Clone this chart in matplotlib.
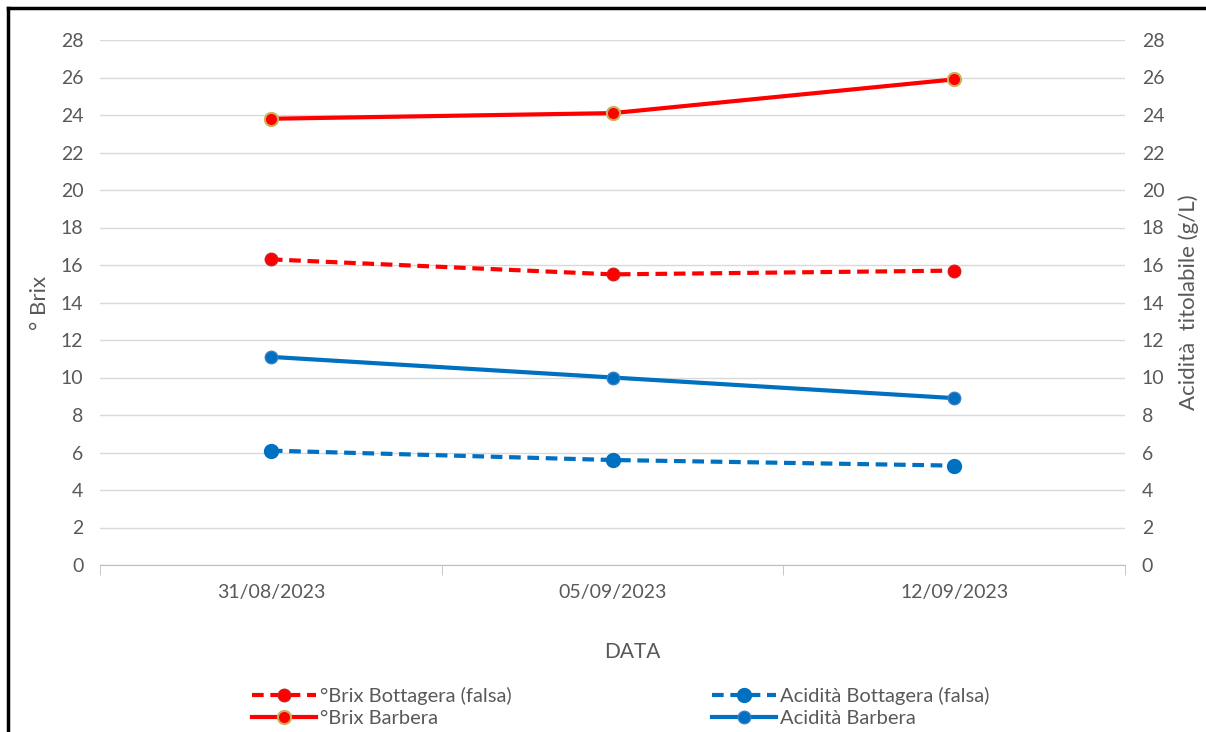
import matplotlib.pyplot as plt
from matplotlib.lines import Line2D

plt.rcParams['font.family'] = ['Lato', 'DejaVu Sans']

dates = ['31/08/2023', '05/09/2023', '12/09/2023']
brix_bottagera = [16.3, 15.5, 15.7]
brix_barbera = [23.8, 24.1, 25.9]
acid_bottagera = [6.1, 5.6, 5.3]
acid_barbera = [11.1, 10.0, 8.9]
yticks = list(range(0, 29, 2))

red = '#FF0000'
blue = '#0070C0'
grey_txt = '#595959'

fig = plt.figure(figsize=(12.06, 7.32), dpi=100)
ax = fig.add_axes([100 / 1206, 167 / 732, 1025 / 1206, 525 / 732])
ax2 = ax.twinx()

x = list(range(len(dates)))
dash = (2.8, 1.6)

l1, = ax.plot(x, brix_bottagera, color=red, lw=3, dashes=dash, marker='o', ms=9,
              mfc=red, mec='#D02020', zorder=3)
l2, = ax.plot(x, brix_barbera, color=red, lw=3, marker='o', ms=9.5,
              mfc=red, mec='#C8B45A', mew=1.5, zorder=3)
l3, = ax2.plot(x, acid_bottagera, color=blue, lw=3, dashes=dash, marker='o', ms=10,
               mfc=blue, mec=blue, zorder=3)
l4, = ax2.plot(x, acid_barbera, color=blue, lw=3, marker='o', ms=9,
               mfc=blue, mec='#3A7FC8', zorder=3)

for a in (ax, ax2):
    a.set_ylim(0, 28)
    a.set_yticks(yticks)
    a.tick_params(axis='y', length=0, labelsize=14, labelcolor=grey_txt, pad=12)
    for s in a.spines.values():
        s.set_visible(False)
ax.set_xlim(-0.5, 2.5)
ax.yaxis.grid(True, color='#D9D9D9', lw=1)
ax.set_axisbelow(True)
ax.spines['bottom'].set_visible(True)
ax.spines['bottom'].set_color('#BFBFBF')

ax.set_xticks(x)
ax.set_xticklabels(dates)
ax.set_xticks([-0.5, 0.5, 1.5, 2.5], minor=True)
ax.tick_params(axis='x', which='major', length=0, labelsize=14, labelcolor=grey_txt, pad=14)
ax.tick_params(axis='x', which='minor', length=7, color='#BFBFBF', direction='out')

ax.set_xlabel('DATA', fontsize=15, color=grey_txt)
ax.xaxis.set_label_coords(532 / 1025, -77 / 525)
ax.set_ylabel('° Brix', fontsize=16, color=grey_txt, labelpad=8)
ax2.set_ylabel('Acidità  titolabile (g/L)', fontsize=16, color=grey_txt, labelpad=10)

leg_kw = dict(loc='center left', frameon=False, fontsize=14.5, labelcolor=grey_txt,
              handlelength=3.2, handletextpad=0.2, labelspacing=0.25, borderpad=0,
              borderaxespad=0)
leg1 = fig.legend([l1, l2], ['°Brix Bottagera (falsa)', '°Brix Barbera'],
                  bbox_to_anchor=(252 / 1206, 1 - 707 / 732), **leg_kw)
leg2 = fig.legend([l3, l4], ['Acidità Bottagera (falsa)', 'Acidità Barbera'],
                  bbox_to_anchor=(712 / 1206, 1 - 707 / 732), **leg_kw)

# black border of the original screenshot (left and top only)
fig.add_artist(Line2D([8 / 1206, 8 / 1206], [0, 1 - 8 / 732], color='black', lw=2.5,
                      transform=fig.transFigure))
fig.add_artist(Line2D([8 / 1206, 1], [1 - 8 / 732, 1 - 8 / 732], color='black', lw=2.5,
                      transform=fig.transFigure))

fig.savefig('out.png', dpi=100)
